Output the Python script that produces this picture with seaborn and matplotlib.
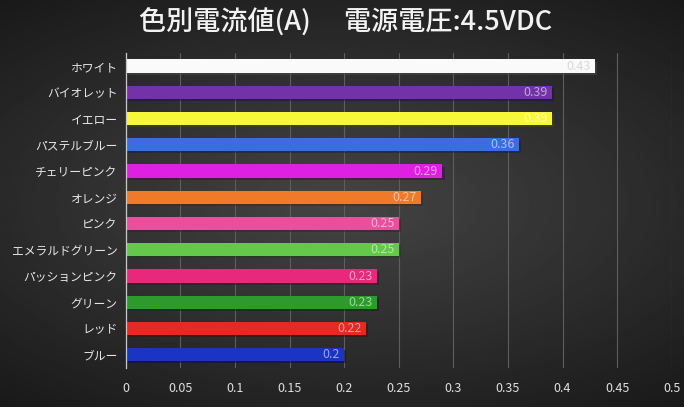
import matplotlib
matplotlib.use("Agg")
import matplotlib.pyplot as plt
import matplotlib.colors as mcolors
import matplotlib.patheffects as pe
import numpy as np
import pandas as pd
import seaborn as sns

TITLE = "色別電流値(A)　 電源電圧:4.5VDC"
COLOR_NAMES = ["ホワイト", "バイオレット", "イエロー", "パステルブルー", "チェリーピンク", "オレンジ",
               "ピンク", "エメラルドグリーン", "パッションピンク", "グリーン", "レッド", "ブルー"]
CURRENTS = [0.43, 0.39, 0.39, 0.36, 0.29, 0.27, 0.25, 0.25, 0.23, 0.23, 0.22, 0.20]
BAR_COLORS = ["#fafafa", "#7432a8", "#f8f83a", "#3a6ee0", "#e020e0", "#f07a28",
              "#ea4f9e", "#64c84a", "#e8287a", "#2e9a2e", "#e62a22", "#1c34c4"]
X_TICKS = [0, 0.05, 0.1, 0.15, 0.2, 0.25, 0.3, 0.35, 0.4, 0.45, 0.5]

sns.set_theme(style="dark")
plt.rcParams["font.family"] = ["Noto Sans CJK JP", "DejaVu Sans"]

df = pd.DataFrame({"name": COLOR_NAMES, "current": CURRENTS})

fig = plt.figure(figsize=(6.84, 4.07), dpi=100)

# dark vignette background
bg = fig.add_axes([0, 0, 1, 1], zorder=-10)
yy, xx = np.mgrid[-1:1:200j, -1:1:300j]
r = np.sqrt((xx * 0.9) ** 2 + (yy * 1.1) ** 2)
bg.imshow(0.27 - 0.12 * r, cmap="gray", vmin=0, vmax=1, aspect="auto", extent=[0, 1, 0, 1])
bg.axis("off")

ax = fig.add_axes([0.184, 0.096, 0.798, 0.774])
ax.set_facecolor("none")
sns.barplot(data=df, x="current", y="name", hue="name", palette=BAR_COLORS,
            legend=False, width=0.5, ax=ax, saturation=1, linewidth=0)
for patch in ax.patches:
    patch.set_path_effects([pe.SimplePatchShadow(offset=(1.5, -1.5), alpha=0.5), pe.Normal()])

for i, (v, c) in enumerate(zip(CURRENTS, BAR_COLORS)):
    rgb = np.array(mcolors.to_rgb(c))
    light = rgb + (1 - rgb) * 0.55
    if v >= 0.43:
        light = (0.85, 0.85, 0.85)
    ax.text(v - 0.004, i, f"{v:g}", ha="right", va="center", fontsize=9, color=light)

ax.set_xlim(0, 0.5)
ax.set_ylim(11.5, -0.5)
ax.set_xticks(X_TICKS)
ax.set_xticklabels([f"{t:g}" for t in X_TICKS])
ax.grid(axis="x", color="#5e5e5e", lw=0.8)
ax.grid(axis="y", visible=False)
ax.set_axisbelow(True)
for s in ["top", "right", "bottom"]:
    ax.spines[s].set_visible(False)
ax.spines["left"].set_color("#c8c8c8")
ax.spines["left"].set_linewidth(0.9)
ax.tick_params(axis="x", colors="#e0e0e0", labelsize=9, length=0, pad=10)
ax.tick_params(axis="y", colors="#e8e8e8", labelsize=8.5, length=0, pad=6)
ax.set_xlabel("")
ax.set_ylabel("")

fig.text(0.505, 0.945, TITLE, ha="center", va="center", fontsize=19.5,
         fontweight="medium", color="#f2f2f2")

fig.savefig("out.png", dpi=100)
